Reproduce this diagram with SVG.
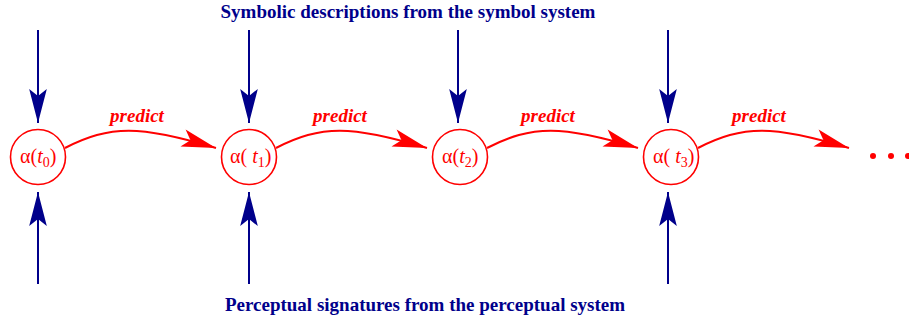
<svg xmlns="http://www.w3.org/2000/svg" width="909" height="322" viewBox="0 0 909 322">
<style>
.node circle{fill:#fff;stroke:#f00;stroke-width:1.6}
.node text{font-family:"Liberation Serif",serif;font-size:20px;fill:#f00}
.blue{stroke:#00008b;stroke-width:2;fill:none}
.red{stroke:#f00;stroke-width:2;fill:none}
.lbl{font-family:"Liberation Serif",serif;font-weight:bold;font-style:italic;font-size:19px;fill:#f00;text-anchor:middle}
.cap{font-family:"Liberation Serif",serif;font-weight:bold;font-size:19px;fill:#00008b;text-anchor:middle}
</style>
<defs>
<marker id="bh" markerUnits="userSpaceOnUse" markerWidth="40" markerHeight="40" viewBox="-32 -10 34 20" refX="0" refY="0" orient="auto">
<path d="M0,0 L-29,-7.5 L-23,0 L-29,7.5 Z" fill="#00008b"/>
</marker>
<marker id="rh" markerUnits="userSpaceOnUse" markerWidth="40" markerHeight="40" viewBox="-34 -10 36 20" refX="0" refY="0" orient="auto">
<path d="M0,0 L-31,-8 L-24,0 L-31,8 Z" fill="#f00"/>
</marker>
</defs>
<text class="cap" x="408" y="18">Symbolic descriptions from the symbol system</text>
<text class="cap" x="425" y="311">Perceptual signatures from the perceptual system</text>
<g id="connectors">
<path class="blue" d="M38,30 V123" marker-end="url(#bh)"/>
<path class="blue" d="M249,30 V123" marker-end="url(#bh)"/>
<path class="blue" d="M458,30 V123" marker-end="url(#bh)"/>
<path class="blue" d="M668,30 V123" marker-end="url(#bh)"/>
<path class="blue" d="M38,284 V192" marker-end="url(#bh)"/>
<path class="blue" d="M249,284 V192" marker-end="url(#bh)"/>
<path class="blue" d="M668,284 V192" marker-end="url(#bh)"/>
<path class="red" d="M65,148 C110,125 140,125 216,148" marker-end="url(#rh)"/>
<path class="red" d="M276,148 C321,125 351,125 427,148" marker-end="url(#rh)"/>
<path class="red" d="M487,148 C532,125 562,125 638,148" marker-end="url(#rh)"/>
<path class="red" d="M698,148 C743,125 773,125 849,148" marker-end="url(#rh)"/>
<text class="lbl" x="137" y="122">predict</text>
<text class="lbl" x="340" y="122">predict</text>
<text class="lbl" x="548" y="122">predict</text>
<text class="lbl" x="759" y="122">predict</text>
</g>
<g id="n0" class="node"><circle cx="38" cy="157" r="27.5"/><text x="20" y="163">α(<tspan font-style="italic">t</tspan><tspan font-size="14" dy="4">0</tspan><tspan dy="-4">)</tspan></text></g>
<g id="n1" class="node"><circle cx="249" cy="157" r="27.5"/><text x="230" y="163">α( <tspan font-style="italic">t</tspan><tspan font-size="14" dy="4">1</tspan><tspan dy="-4">)</tspan></text></g>
<g id="n2" class="node"><circle cx="460" cy="157" r="27.5"/><text x="442" y="163">α(<tspan font-style="italic">t</tspan><tspan font-size="14" dy="4">2</tspan><tspan dy="-4">)</tspan></text></g>
<g id="n3" class="node"><circle cx="671" cy="157" r="27.5"/><text x="653" y="163">α( <tspan font-style="italic">t</tspan><tspan font-size="14" dy="4">3</tspan><tspan dy="-4">)</tspan></text></g>
<g id="dots" fill="#f00"><circle cx="873" cy="156" r="3"/><circle cx="891" cy="156" r="3"/><circle cx="908" cy="156" r="3"/></g>
</svg>
